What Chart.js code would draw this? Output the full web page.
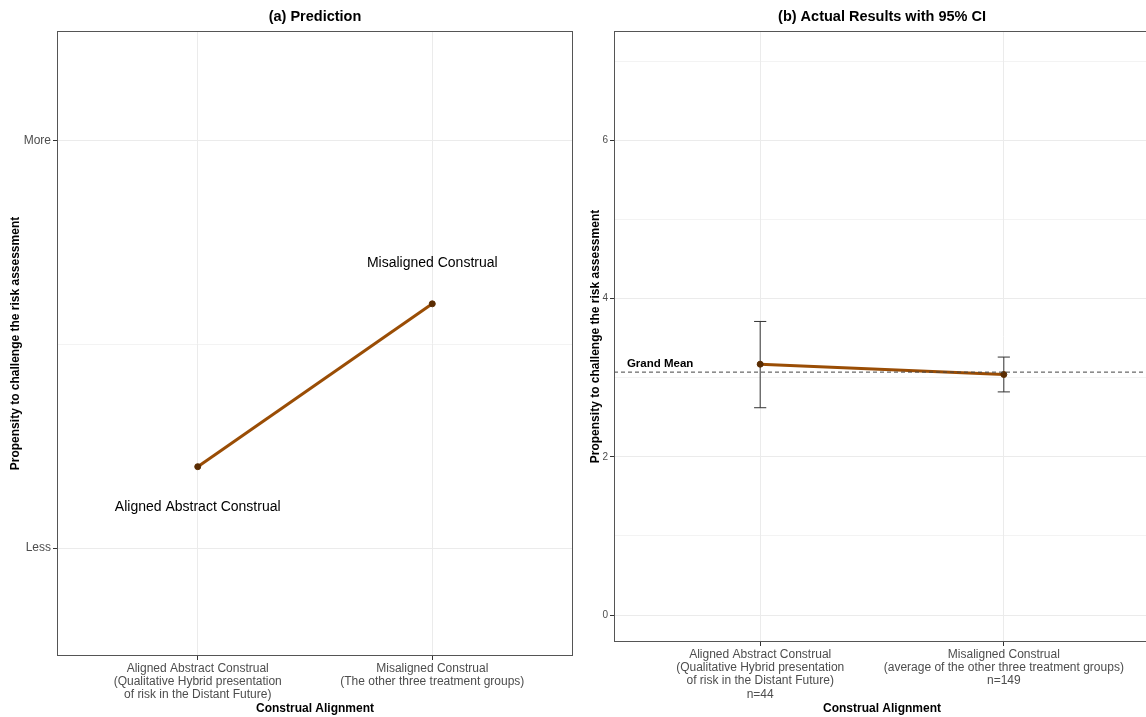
<!DOCTYPE html>
<html>
<head>
<meta charset="utf-8">
<script src="https://cdn.jsdelivr.net/npm/chart.js@4"></script>
<style>
  html, body { margin: 0; padding: 0; background: #fff; overflow: hidden; }
  body { width: 1146px; height: 717px; position: relative; }
  .panel { position: absolute; top: 0; }
  #left { left: 0; width: 580px; height: 717px; }
  #right { left: 580px; width: 580px; height: 717px; }
</style>
</head>
<body>
<div class="panel" id="left"><canvas id="chart-prediction" width="580" height="717"></canvas></div>
<div class="panel" id="right"><canvas id="chart-actual" width="580" height="717"></canvas></div>
<script>
// Panel (a) - prediction
const predCategories = [
  ["Aligned Abstract Construal", "(Qualitative Hybrid presentation", "of risk in the Distant Future)"],
  ["Misaligned Construal", "(The other three treatment groups)"],
];
const predValues = [1.4, 2.2];
const predPointLabels = ["Aligned Abstract Construal", "Misaligned Construal"];
const predPointLabelY = [1.2, 2.4];
const predTicks = [1, 2, 3];
const predTickLabels = { 1: "Less", 3: "More" };

// Panel (b) - actual results with 95% CI
const actualCategories = [
  ["Aligned Abstract Construal", "(Qualitative Hybrid presentation", "of risk in the Distant Future)", "n=44"],
  ["Misaligned Construal", "(average of the other three treatment groups)", "n=149"],
];
const actualMeans = [3.17, 3.04];
const actualLow = [2.62, 2.82];
const actualHigh = [3.71, 3.26];
const grandMean = 3.07;
const actualTicks = [0, 1, 2, 3, 4, 5, 6, 7];
const actualTickLabels = { 0: "0", 2: "2", 4: "4", 6: "6" };

const FONT = "'Liberation Sans', Arial, sans-serif";
const LINE = "#9a4d05";
const POINT = "#5a2c02";
const GRID = "#ebebeb";

const panelDecor = {
  id: "panelDecor",
  afterDraw(chart, args, opts) {
    const { ctx, chartArea: a } = chart;
    ctx.save();
    ctx.strokeStyle = "#555";
    ctx.lineWidth = 1;
    ctx.strokeRect(a.left + 0.5, a.top + 0.5, a.right - a.left - 1, a.bottom - a.top - 1);
    ctx.fillStyle = "#000";
    ctx.font = "bold 14.5px " + FONT;
    ctx.textAlign = "center";
    ctx.textBaseline = "middle";
    ctx.fillText(opts.title, (a.left + a.right) / 2, 17);
    ctx.restore();
  },
};

function xScale(categories, titlePad, height) {
  return {
    type: "linear",
    min: 0.4,
    max: 2.6,
    afterBuildTicks: (s) => { s.ticks = [{ value: 1 }, { value: 2 }]; },
    afterFit: (s) => { s.height = height; },
    grid: { color: GRID, lineWidth: 1, tickLength: 4, tickColor: "#333" },
    border: { display: false },
    ticks: {
      autoSkip: false,
      maxRotation: 0,
      padding: 2,
      color: "#4d4d4d",
      font: { family: FONT, size: 12, lineHeight: 1.1 },
      callback: (v) => categories[v - 1] || "",
    },
    title: {
      display: true,
      text: "Construal Alignment",
      color: "#000",
      font: { family: FONT, size: 12, weight: "bold" },
      padding: { top: 0, bottom: titlePad },
    },
  };
}

function yScale(min, max, ticks, labels, width, tickSize, titlePad) {
  const major = (v) => labels[v] !== undefined;
  return {
    type: "linear",
    min,
    max,
    afterBuildTicks: (s) => { s.ticks = ticks.map((v) => ({ value: v })); },
    afterFit: (s) => { s.width = width; },
    grid: {
      color: GRID,
      lineWidth: (c) => (c.tick && major(c.tick.value) ? 1 : 0.6),
      tickLength: 4,
      tickColor: (c) => (c.tick && major(c.tick.value) ? "#333" : "rgba(0,0,0,0)"),
    },
    border: { display: false },
    ticks: {
      autoSkip: false,
      padding: 2,
      color: "#4d4d4d",
      font: { family: FONT, size: tickSize },
      callback: (v) => labels[v] || "",
    },
    title: {
      display: true,
      text: "Propensity to challenge the risk assessment",
      color: "#000",
      font: { family: FONT, size: 12, weight: "bold" },
      padding: { top: titlePad, bottom: 0 },
    },
  };
}

const pointLabels = {
  id: "pointLabels",
  afterDatasetsDraw(chart) {
    const { ctx, scales } = chart;
    ctx.save();
    ctx.fillStyle = "#000";
    ctx.font = "14px " + FONT;
    ctx.textAlign = "center";
    ctx.textBaseline = "middle";
    predPointLabels.forEach((t, i) => {
      ctx.fillText(t, scales.x.getPixelForValue(i + 1), scales.y.getPixelForValue(predPointLabelY[i]));
    });
    ctx.restore();
  },
};

const errorBars = {
  id: "errorBars",
  beforeDatasetsDraw(chart) {
    const { ctx, scales } = chart;
    ctx.save();
    ctx.strokeStyle = "#333";
    ctx.lineWidth = 1;
    actualMeans.forEach((m, i) => {
      const x = scales.x.getPixelForValue(i + 1);
      const x0 = scales.x.getPixelForValue(i + 1 - 0.025);
      const x1 = scales.x.getPixelForValue(i + 1 + 0.025);
      const yl = scales.y.getPixelForValue(actualLow[i]);
      const yh = scales.y.getPixelForValue(actualHigh[i]);
      ctx.beginPath();
      ctx.moveTo(x, yl); ctx.lineTo(x, yh);
      ctx.moveTo(x0, yl); ctx.lineTo(x1, yl);
      ctx.moveTo(x0, yh); ctx.lineTo(x1, yh);
      ctx.stroke();
    });
    ctx.restore();
  },
  afterDatasetsDraw(chart) {
    const { ctx, scales } = chart;
    ctx.save();
    ctx.fillStyle = "#000";
    ctx.font = "bold 11.5px " + FONT;
    ctx.textAlign = "left";
    ctx.textBaseline = "middle";
    ctx.fillText("Grand Mean", scales.x.getPixelForValue(0.453), scales.y.getPixelForValue(grandMean) - 8);
    ctx.restore();
  },
};

const mainLine = (values) => ({
  data: values.map((v, i) => ({ x: i + 1, y: v })),
  borderColor: LINE,
  borderWidth: 3,
  pointRadius: 3,
  pointBackgroundColor: POINT,
  pointBorderColor: POINT,
  pointBorderWidth: 1,
  order: 1,
});

new Chart(document.getElementById("chart-prediction").getContext("2d"), {
  type: "line",
  data: { datasets: [mainLine(predValues)] },
  options: {
    responsive: false,
    animation: false,
    layout: { padding: { top: 31, right: 7, left: 0, bottom: 0 } },
    plugins: { legend: { display: false }, tooltip: { enabled: false }, panelDecor: { title: "(a) Prediction" } },
    scales: {
      x: xScale(predCategories, 1.5, 61),
      y: yScale(0.47, 3.54, predTicks, predTickLabels, 57, 12, 8),
    },
  },
  plugins: [panelDecor, pointLabels],
});

new Chart(document.getElementById("chart-actual").getContext("2d"), {
  type: "line",
  data: {
    datasets: [
      {
        data: [{ x: 0.4, y: grandMean }, { x: 2.6, y: grandMean }],
        borderColor: "#444",
        borderWidth: 1,
        borderDash: [4, 3],
        pointRadius: 0,
        order: 0,
      },
      mainLine(actualMeans),
    ],
  },
  options: {
    responsive: false,
    animation: false,
    layout: { padding: { top: 31, right: 10, left: 0, bottom: 0 } },
    plugins: { legend: { display: false }, tooltip: { enabled: false }, panelDecor: { title: "(b) Actual Results with 95% CI" } },
    scales: {
      x: xScale(actualCategories, 1.5, 75),
      y: yScale(-0.34, 7.38, actualTicks, actualTickLabels, 34, 10, 8),
    },
  },
  plugins: [panelDecor, errorBars],
});
</script>
</body>
</html>
